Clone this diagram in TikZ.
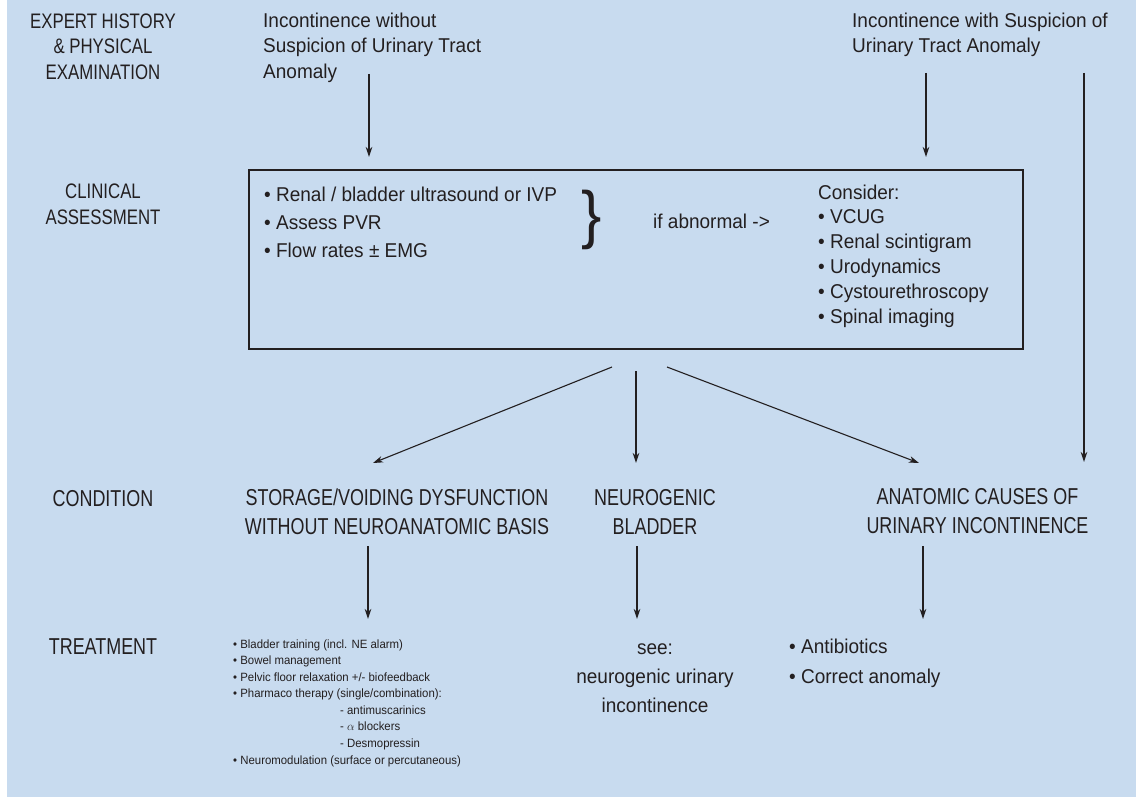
\documentclass[tikz,border=0pt]{standalone}
\usepackage{fontspec}
\setmainfont{Liberation Sans}[FakeStretch=0.95]
\newfontfamily\capsfont{Liberation Sans}[FakeStretch=0.80]
\newfontfamily\bigfont{Liberation Sans}[FakeStretch=0.78]
\usetikzlibrary{arrows.meta}
\definecolor{bgblue}{RGB}{200,219,239}
\definecolor{ink}{RGB}{35,31,32}
\begin{document}
\begin{tikzpicture}[x=1pt,y=-1pt,
  txt/.style={inner sep=0pt, text=ink, font=\fontsize{20}{25.5}\selectfont},
  capslbl/.style={inner sep=0pt, text=ink, font=\capsfont\fontsize{21}{25.5}\selectfont},
  biglbl/.style={inner sep=0pt, text=ink, font=\bigfont\fontsize{23}{29}\selectfont},
  smalltxt/.style={inner sep=0pt, text=ink, font=\fontsize{12}{16.57}\selectfont},
  arr/.style={draw=ink, line width=1.1pt, -{Stealth[length=10pt,width=6.5pt,inset=3pt]}},
  framebox/.style={draw=ink, line width=1.1pt, inner sep=0pt, minimum width=774pt, minimum height=179pt}
]
\useasboundingbox (0,0) rectangle (1136,800);
\fill[white] (0,0) rectangle (1136,800);
\fill[bgblue] (7,0) rectangle (1136,797);

% left column labels
\node[capslbl, align=center] (hist) at (103,46.5) {EXPERT HISTORY\\\& PHYSICAL\\EXAMINATION};
\node[capslbl, align=center] (clin) at (103,204.5) {CLINICAL\\ASSESSMENT};
\node[biglbl] (cond) at (103,499) {CONDITION};
\node[biglbl] (treat) at (103,647) {TREATMENT};

% top entries
\node[txt, align=left, anchor=west] (inc1) at (263,47.5) {Incontinence without\\Suspicion of Urinary Tract\\Anomaly};
\node[txt, align=left, anchor=west] (inc2) at (852,35) {Incontinence with Suspicion of\\Urinary Tract Anomaly};

% assessment box
\node[framebox] (box) at (636,259.5) {};
\node[txt, align=left, anchor=west, font=\fontsize{20}{28}\selectfont] (tests) at (264,222) {• Renal / bladder ultrasound or IVP\\• Assess PVR\\• Flow rates ± EMG};
\node[inner sep=0pt, text=ink, font=\fontsize{64}{64}\selectfont] (brace) at (592,220) {\}};
\node[txt, anchor=west] (ifab) at (653,221) {if abnormal ->};
\node[txt, align=left, anchor=west, font=\fontsize{20}{24.8}\selectfont] (cons) at (818,256) {Consider:\\• VCUG\\• Renal scintigram\\• Urodynamics\\• Cystourethroscopy\\• Spinal imaging};

% conditions
\node[biglbl, align=center] (sd) at (397,511.5) {STORAGE/VOIDING DYSFUNCTION\\WITHOUT NEUROANATOMIC BASIS};
\node[biglbl, align=center] (ng) at (655,511.5) {NEUROGENIC\\BLADDER};
\node[biglbl, align=center] (an) at (977.5,511.5) {ANATOMIC CAUSES OF\\URINARY INCONTINENCE};

% treatments
\node[smalltxt, align=left, anchor=west] (tr1) at (233,703) {• Bladder training (incl. NE alarm)\\• Bowel management\\• Pelvic floor relaxation +/- biofeedback\\• Pharmaco therapy (single/combination):\\\hspace*{107pt}- antimuscarinics\\\hspace*{107pt}- $\alpha$ blockers\\\hspace*{107pt}- Desmopressin\\• Neuromodulation (surface or percutaneous)};
\node[txt, align=center, font=\fontsize{20}{29}\selectfont] (tr2) at (655,678) {see:\\neurogenic urinary\\incontinence};
\node[txt, align=left, anchor=west, font=\fontsize{20}{30}\selectfont] (tr3) at (789,663) {• Antibiotics\\• Correct anomaly};

% connector end points
\coordinate (a1s) at (369,74);   \coordinate (a1e) at (369,157);
\coordinate (a2s) at (926,73);   \coordinate (a2e) at (926,157);
\coordinate (a3s) at (1084,73);  \coordinate (a3e) at (1084,462);
\coordinate (b1s) at (612,367);  \coordinate (b1e) at (373,463);
\coordinate (b2s) at (636,371);  \coordinate (b2e) at (636,463);
\coordinate (b3s) at (667,367);  \coordinate (b3e) at (919,463);
\coordinate (c1s) at (368,546);  \coordinate (c1e) at (368,619);
\coordinate (c2s) at (637,546);  \coordinate (c2e) at (637,619);
\coordinate (c3s) at (923,546);  \coordinate (c3e) at (923,619);

\draw[arr] (a1s) -- (a1e);
\draw[arr] (a2s) -- (a2e);
\draw[arr] (a3s) -- (a3e);
\draw[arr] (b1s) -- (b1e);
\draw[arr] (b2s) -- (b2e);
\draw[arr] (b3s) -- (b3e);
\draw[arr] (c1s) -- (c1e);
\draw[arr] (c2s) -- (c2e);
\draw[arr] (c3s) -- (c3e);
\end{tikzpicture}
\end{document}
